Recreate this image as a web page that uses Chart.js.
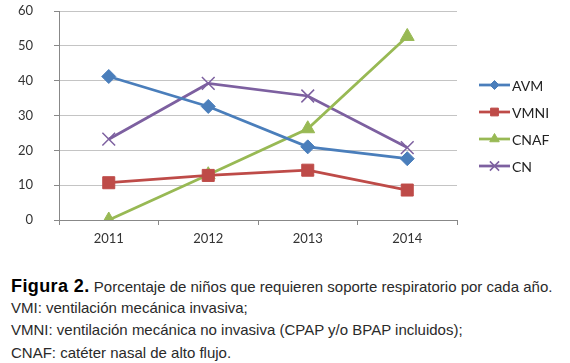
<!DOCTYPE html>
<html><head><meta charset="utf-8">
<script src="https://cdn.jsdelivr.net/npm/chart.js@4.4.1/dist/chart.umd.min.js"></script>
<style>
html,body{margin:0;padding:0;background:#fff;width:570px;height:363px;overflow:hidden}
#wrap{position:absolute;left:0;top:0;width:570px;height:250px}
.cap{position:absolute;left:11px;font-family:"Liberation Sans",Arial,sans-serif;font-size:15px;color:#2a2a2a;white-space:nowrap;line-height:1}
.cap b{color:#000;font-size:18px;letter-spacing:0.4px}
</style></head><body>
<div id="wrap"><canvas id="c" width="570" height="250"></canvas></div>
<div class="cap" style="top:277px"><b>Figura 2.</b> Porcentaje de niños que requieren soporte respiratorio por cada año.</div>
<div class="cap" style="top:300px">VMI: ventilación mecánica invasiva;</div>
<div class="cap" style="top:322px">VMNI: ventilación mecánica no invasiva (CPAP y/o BPAP incluidos);</div>
<div class="cap" style="top:345px">CNAF: catéter nasal de alto flujo.</div>
<script>
const years = ["2011","2012","2013","2014"];
const avm  = [41.2, 32.6, 21.0, 17.6];
const vmni = [10.7, 12.8, 14.3, 8.6];
const cnaf = [0, 13.0, 26.2, 52.7];
const cn   = [23.2, 39.2, 35.6, 20.8];
const seriesNames = ["AVM","VMNI","CNAF","CN"];
const yTicks = [0,10,20,30,40,50,60];

const colors = ["#4a7ebb","#be4b48","#98b954","#7d60a0"];
const styles = ["rectRot","rect","triangle","crossRot"];
const radii = [7,8.5,8,9];
const legendRadii = [4.5,5.5,5.5,6.5];
const vals = [avm,vmni,cnaf,cn];
const tickFont = {family:'Lato, "Open Sans", sans-serif',size:13};

new Chart(document.getElementById('c'),{
  type:'line',
  data:{labels:years,datasets:vals.map((v,i)=>({
    label:seriesNames[i],data:v,borderColor:colors[i],backgroundColor:colors[i],
    borderWidth:2.75,pointStyle:styles[i],pointRadius:radii[i],
    pointBorderColor:colors[i],pointBackgroundColor:colors[i],pointBorderWidth:styles[i]==='crossRot'?1.5:1,
    tension:0,fill:false
  }))},
  options:{
    responsive:false,animation:false,
    layout:{padding:{top:11,right:113,left:0,bottom:0}},
    plugins:{legend:{display:false},tooltip:{enabled:false}},
    scales:{
      x:{offset:true,
        grid:{display:true,drawOnChartArea:false,drawTicks:true,tickLength:5,color:'#888',offset:true},
        border:{display:true,color:'#888',width:1},
        ticks:{color:'#333',font:tickFont,padding:6},
        afterFit(s){s.height=30;s.paddingLeft=0;s.paddingRight=0;}
      },
      y:{min:0,max:60,
        afterBuildTicks(s){s.ticks=yTicks.map(v=>({value:v}));},
        grid:{color:'#c4c4c4',lineWidth:1,drawTicks:true,tickLength:5,tickColor:'#888'},
        border:{display:true,color:'#888',width:1},
        ticks:{color:'#333',font:tickFont,padding:21},
        afterFit(s){s.width=59;s.paddingTop=0;s.paddingBottom=0;}
      }
    }
  },
  plugins:[{
    id:'sideLegend',
    afterDraw(chart){
      const ctx=chart.ctx;
      const ys=[85,112,139,166];
      chart.data.datasets.forEach((ds,i)=>{
        const y=ys[i];
        ctx.save();
        ctx.strokeStyle=ds.borderColor; ctx.fillStyle=ds.backgroundColor; ctx.lineWidth=2.75;
        ctx.beginPath(); ctx.moveTo(479,y); ctx.lineTo(510,y); ctx.stroke();
        ctx.lineWidth=ds.pointBorderWidth;
        Chart.helpers.drawPoint(ctx,{pointStyle:ds.pointStyle,radius:legendRadii[i],borderWidth:ds.pointBorderWidth,rotation:0},494.5,y);
        ctx.fillStyle='#222'; ctx.font='14px Lato, "Open Sans", sans-serif';
        ctx.textBaseline='middle'; ctx.textAlign='left';
        ctx.fillText(ds.label,512,y+1);
        ctx.restore();
      });
    }
  }]
});
</script>
</body></html>
